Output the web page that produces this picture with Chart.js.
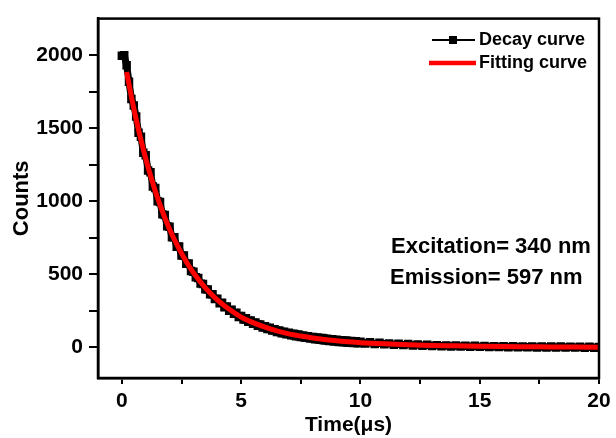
<!DOCTYPE html>
<html>
<head>
<meta charset="utf-8">
<script src="https://cdn.jsdelivr.net/npm/chart.js@4"></script>
<style>
  html, body { margin: 0; padding: 0; background: #fff; }
  canvas { display: block; }
</style>
</head>
<body>
<canvas id="c" width="616" height="438"></canvas>
<script>
// ---- data ----
const decayTime = [
  0.0,0.1,0.2,0.3,0.4,0.5,0.6,0.7,0.8,0.9,
  1.0,1.1,1.2,1.3,1.4,1.5,1.6,1.7,1.8,1.9,
  2.0,2.1,2.2,2.3,2.4,2.5,2.6,2.7,2.8,2.9,
  3.0,3.1,3.2,3.3,3.4,3.5,3.6,3.7,3.8,3.9,
  4.0,4.1,4.2,4.3,4.4,4.5,4.6,4.7,4.8,4.9,
  5.0,5.1,5.2,5.3,5.4,5.5,5.6,5.7,5.8,5.9,
  6.0,6.1,6.2,6.3,6.4,6.5,6.6,6.7,6.8,6.9,
  7.0,7.1,7.2,7.3,7.4,7.5,7.6,7.7,7.8,7.9,
  8.0,8.1,8.2,8.3,8.4,8.5,8.6,8.7,8.8,8.9,
  9.0,9.1,9.2,9.3,9.4,9.5,9.6,9.7,9.8,9.9,
  10.0,10.2,10.4,10.6,10.8,11.0,11.2,11.4,11.6,11.8,
  12.0,12.2,12.4,12.6,12.8,13.0,13.2,13.4,13.6,13.8,
  14.0,14.2,14.4,14.6,14.8,15.0,15.2,15.4,15.6,15.8,
  16.0,16.2,16.4,16.6,16.8,17.0,17.2,17.4,17.6,17.8,
  18.0,18.2,18.4,18.6,18.8,19.0,19.2,19.4,19.6,19.8,
  20.0
];
const decayCounts = [
  1995,2000,1930,1818,1700,1655,1580,1468,1442,1332,
  1315,1210,1198,1100,1090,1000,995,910,906,828,
  826,754,754,688,690,628,629,572,574,522,
  518,480,474,436,433,398,396,363,364,331,
  333,302,305,275,280,251,257,229,236,208,
  215,190,199,175,184,161,170,148,157,136,
  145,125,134,115,124,105,115,97,107,89,
  99,82,93,76,87,70,81,65,76,60,
  71,55,67,51,63,47,59,43,55,40,
  52,37,49,34,46,31,43,29,41,27,
  39,26,34,23,31,21,27,18,24,15,
  22,13,20,11,17,9,15,8,13,6,
  12,5,11,4,10,3,9,2,8,2,
  7,1,7,0,6,0,6,-1,5,-1,
  5,-2,5,-2,4,-2,4,-3,4,-3,
  3
];
const fitTime = [0.2,0.4,0.6,0.8,1.0,1.2,1.4,1.6,1.8,2.0,2.2,2.4,2.6,2.8,3.0,3.5,4.0,4.5,5.0,5.5,6.0,6.5,7.0,7.5,8.0,8.5,9.0,9.5,10,11,12,13,14,15,16,17,18,19,20];
const fitCounts = [1885,1715,1560,1420,1292,1176,1070,975,888,808,738,674,614,560,511,407,325,260,207,169,138,112,92,77,64,54,45,38,32,24,18,13,10,7,5,4,3,2,1];

const xTickValues = [0,2.5,5,7.5,10,12.5,15,17.5,20];
const yTickValues = [0,250,500,750,1000,1250,1500,1750,2000];
const legendLabels = ['Decay curve', 'Fitting curve'];
const noteLines = ['Excitation= 340 nm', 'Emission= 597 nm'];

const FONT = 'Liberation Sans, Arial, sans-serif';

const framePlugin = {
  id: 'frameAndText',
  afterDraw(chart) {
    const ctx = chart.ctx;
    const a = chart.chartArea;
    ctx.save();
    ctx.strokeStyle = '#000';
    ctx.lineWidth = 2.5;
    ctx.strokeRect(a.left, a.top, a.right - a.left, a.bottom - a.top);

    // legend
    ctx.lineWidth = 2;
    ctx.beginPath(); ctx.moveTo(432, 40); ctx.lineTo(475, 40); ctx.stroke();
    ctx.fillStyle = '#000';
    ctx.fillRect(449, 36, 8, 8);
    ctx.strokeStyle = '#ff0000';
    ctx.lineWidth = 4.5;
    ctx.beginPath(); ctx.moveTo(429, 63); ctx.lineTo(476, 63); ctx.stroke();
    ctx.fillStyle = '#000';
    ctx.font = 'bold 18px ' + FONT;
    ctx.textBaseline = 'middle';
    ctx.textAlign = 'left';
    ctx.fillText(legendLabels[0], 479, 40);
    ctx.fillText(legendLabels[1], 479, 63);

    // notes
    ctx.font = 'bold 22px ' + FONT;
    ctx.fillText(noteLines[0], 391, 247);
    ctx.fillText(noteLines[1], 390, 278);
    ctx.restore();
  }
};

const tickFont = { family: FONT, weight: 'bold', size: 21 };

new Chart(document.getElementById('c'), {
  type: 'scatter',
  data: {
    datasets: [
      {
        label: legendLabels[1],
        data: fitTime.map((t, i) => ({ x: t, y: fitCounts[i] })),
        showLine: true,
        borderColor: '#ff0000',
        borderWidth: 5,
        pointRadius: 0,
        cubicInterpolationMode: 'monotone',
        order: 0
      },
      {
        label: legendLabels[0],
        data: decayTime.map((t, i) => ({ x: t, y: decayCounts[i] })),
        showLine: true,
        borderColor: '#000',
        borderWidth: 7,
        pointStyle: 'rect',
        pointRadius: 6,
        pointBackgroundColor: '#000',
        pointBorderWidth: 0,
        order: 1
      }
    ]
  },
  options: {
    responsive: false,
    devicePixelRatio: 1,
    animation: false,
    layout: { padding: { left: 0, right: 17, top: 14, bottom: 0 } },
    plugins: { legend: { display: false }, tooltip: { enabled: false } },
    scales: {
      x: {
        type: 'linear',
        min: -1,
        max: 20,
        afterBuildTicks: (s) => { s.ticks = xTickValues.map(v => ({ value: v })); },
        afterFit: (s) => { s.height = 60; },
        ticks: {
          autoSkip: false,
          maxRotation: 0,
          padding: 5,
          color: '#000',
          font: tickFont,
          callback: (v) => (v % 5 === 0 ? String(v) : '')
        },
        grid: { display: true, drawOnChartArea: false, drawTicks: true, tickLength: 6, color: '#000', lineWidth: 2 },
        border: { display: true, color: '#000', width: 2.5 },
        title: { display: true, text: 'Time(\u03bcs)', color: '#000', font: { family: FONT, weight: 'bold', size: 21 }, padding: { top: -11, bottom: 0 } }
      },
      y: {
        type: 'linear',
        min: -210,
        max: 2250,
        afterBuildTicks: (s) => { s.ticks = yTickValues.map(v => ({ value: v })); },
        afterFit: (s) => { s.width = 98; },
        ticks: {
          autoSkip: false,
          padding: 6,
          color: '#000',
          font: tickFont,
          callback: (v) => (v % 500 === 0 ? String(v) : '')
        },
        grid: { display: true, drawOnChartArea: false, drawTicks: true, tickLength: 9, color: '#000', lineWidth: 2 },
        border: { display: true, color: '#000', width: 2.5 },
        title: { display: true, text: 'Counts', color: '#000', font: { family: FONT, weight: 'bold', size: 22 }, padding: { top: 9, bottom: 0 } }
      }
    }
  },
  plugins: [framePlugin]
});
</script>
</body>
</html>
